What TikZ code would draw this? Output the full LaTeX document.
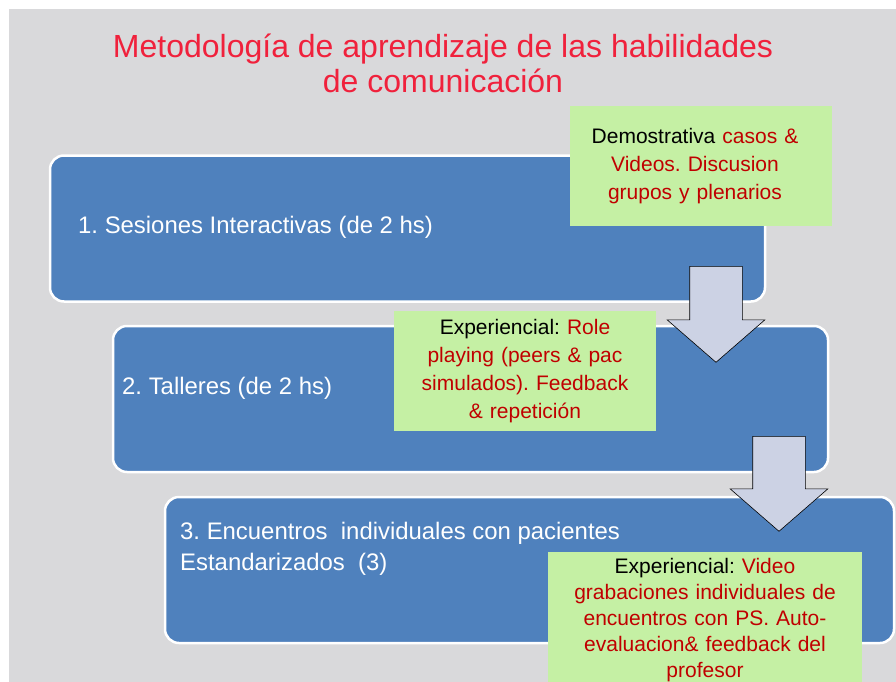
\documentclass[tikz,border=0pt]{standalone}
\usepackage{fontspec}
\setmainfont{Liberation Sans}
\usetikzlibrary{shapes.arrows}

\definecolor{fondo}{RGB}{217,217,219}
\definecolor{azul}{RGB}{79,129,189}
\definecolor{verde}{RGB}{197,240,164}
\definecolor{rojo}{RGB}{192,0,0}
\definecolor{titulo}{RGB}{240,33,60}
\definecolor{flecha}{RGB}{204,210,228}

\begin{document}
\frenchspacing
\begin{tikzpicture}[x=1pt,y=-1pt,
  caja/.style={draw=white,line width=2.5pt,fill=azul,rounded corners=14pt,
    minimum height=146pt},
  nota/.style={fill=verde,inner sep=0pt,align=center,text width=#1,
    font=\fontsize{21}{28}\selectfont},
  bajada/.style={single arrow,draw=black,line width=0.6pt,fill=flecha,
    shape border rotate=270,minimum height=96pt,inner sep=26pt,anchor=tail,
    single arrow head extend=22.5pt,single arrow tip angle=98},
  texto/.style={text=white,anchor=west,align=left,inner sep=0pt,
    font=\fontsize{23.9}{31}\selectfont}]
\useasboundingbox (0,0) rectangle (896,682);
\fill[white] (0,0) rectangle (896,682);
\fill[fondo] (9,9) rectangle (896,682);

% titulo
\node[text=titulo,align=center,font=\fontsize{32}{35}\selectfont] (tit) at (443,63)
  {Metodología de aprendizaje de las habilidades\\de comunicación};

% pasos
\node[caja,minimum width=715pt] (s1) at (407.5,228.5) {};
\node[texto] (t1) at (78,227) {1. Sesiones Interactivas (de 2 hs)};
\node[caja,minimum width=715pt] (s2) at (470.5,399) {};
\node[texto] (t2) at (122,388) {2. Talleres (de 2 hs)};
\node[caja,minimum width=729pt] (s3) at (529.5,570) {};
\node[texto] (t3) at (180,548.5) {3. Encuentros\ \ individuales con pacientes\\Estandarizados\ \ (3)};

% notas
\node[nota=262pt,minimum height=120pt] (n1) at (701,166)
  {\hspace*{-12pt}Demostrativa \textcolor{rojo}{casos \&}\\\hspace*{-12pt}\textcolor{rojo}{Videos. Discusion}\\\hspace*{-12pt}\textcolor{rojo}{grupos y plenarios}};
\node[nota=262pt,minimum height=120pt] (n2) at (525,371)
  {Experiencial: \textcolor{rojo}{Role}\\\textcolor{rojo}{playing (peers \& pac}\\\textcolor{rojo}{simulados). Feedback}\\\textcolor{rojo}{\& repetición}};
\node[nota=314pt,minimum height=136pt,font=\fontsize{21}{26}\selectfont] (n3) at (705,620)
  {Experiencial: \textcolor{rojo}{Video}\\\textcolor{rojo}{grabaciones individuales de}\\\textcolor{rojo}{encuentros con PS. Auto-}\\\textcolor{rojo}{evaluacion\& feedback del}\\\textcolor{rojo}{profesor}};

% flechas
\node[bajada] (f1) at (716,266) {};
\node[bajada,minimum height=95pt] (f2) at (779,436) {};
\end{tikzpicture}
\end{document}
